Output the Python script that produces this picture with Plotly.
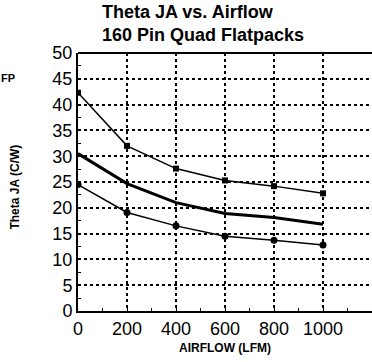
import plotly.graph_objects as go

airflow = [0, 200, 400, 600, 800, 1000]
upper = [42.3, 32.0, 27.6, 25.3, 24.2, 22.8]
middle = [30.5, 24.7, 21.0, 18.9, 18.1, 16.8]
lower = [24.5, 19.1, 16.5, 14.5, 13.7, 12.8]
x_ticks = [0, 200, 400, 600, 800, 1000]
y_ticks = [0, 5, 10, 15, 20, 25, 30, 35, 40, 45, 50]

fig = go.Figure()
fig.add_trace(go.Scatter(x=airflow, y=upper, mode="lines+markers",
                         line=dict(color="black", width=1.5),
                         marker=dict(symbol="square", size=6, color="black")))
fig.add_trace(go.Scatter(x=airflow, y=middle, mode="lines",
                         line=dict(color="black", width=3)))
fig.add_trace(go.Scatter(x=airflow, y=lower, mode="lines+markers",
                         line=dict(color="black", width=1.5),
                         marker=dict(symbol="circle", size=7, color="black")))

font_t = "Liberation Sans, Arial, sans-serif"
fig.update_layout(
    width=372, height=362,
    margin=dict(l=78, r=0, t=53, b=51),
    paper_bgcolor="white", plot_bgcolor="white",
    showlegend=False,
    font=dict(family=font_t, color="black"),
)
fig.update_xaxes(range=[0, 1200], tickvals=x_ticks, ticktext=[str(v) for v in x_ticks],
                 showgrid=True, gridcolor="black", griddash="dot", gridwidth=1.5,
                 showline=True, linecolor="black", linewidth=2, zeroline=False,
                 ticks="inside", ticklen=3, tickcolor="black",
                 minor=dict(dtick=100, ticks="inside", ticklen=3, tickcolor="black", showgrid=False),
                 tickfont=dict(size=18, family=font_t),
                 title=dict(text="<b>AIRFLOW (LFM)</b>", font=dict(size=12, family=font_t), standoff=6))
fig.update_yaxes(range=[0, 50], tickvals=y_ticks, ticktext=[str(v) for v in y_ticks],
                 showgrid=True, gridcolor="black", griddash="dot", gridwidth=1.5,
                 showline=True, linecolor="black", linewidth=2, zeroline=False,
                 ticks="inside", ticklen=3, tickcolor="black",
                 minor=dict(dtick=2.5, ticks="inside", ticklen=3, tickcolor="black", showgrid=False),
                 tickfont=dict(size=18, family=font_t))
# top border
fig.add_shape(type="line", xref="paper", yref="paper", x0=0, x1=1, y0=1, y1=1,
              line=dict(color="black", width=2))
# title
fig.add_annotation(text="<b>Theta JA vs. Airflow<br>160 Pin Quad Flatpacks</b>",
                   xref="paper", yref="paper", x=0.0748, y=1.205, xanchor="left", yanchor="top",
                   align="left", showarrow=False,
                   font=dict(size=18, family=font_t))
# y title
fig.add_annotation(text="<b>Theta JA (C/W)</b>", xref="paper", yref="paper",
                   x=-0.213, y=0.48, xanchor="center", yanchor="middle", textangle=-90,
                   showarrow=False, font=dict(size=12, family=font_t))
fig.add_annotation(text="<b>FP</b>", xref="paper", yref="paper", x=-0.27, y=0.934,
                   showarrow=False, font=dict(size=11, family=font_t), xanchor="left")

fig.write_html("out.html")
